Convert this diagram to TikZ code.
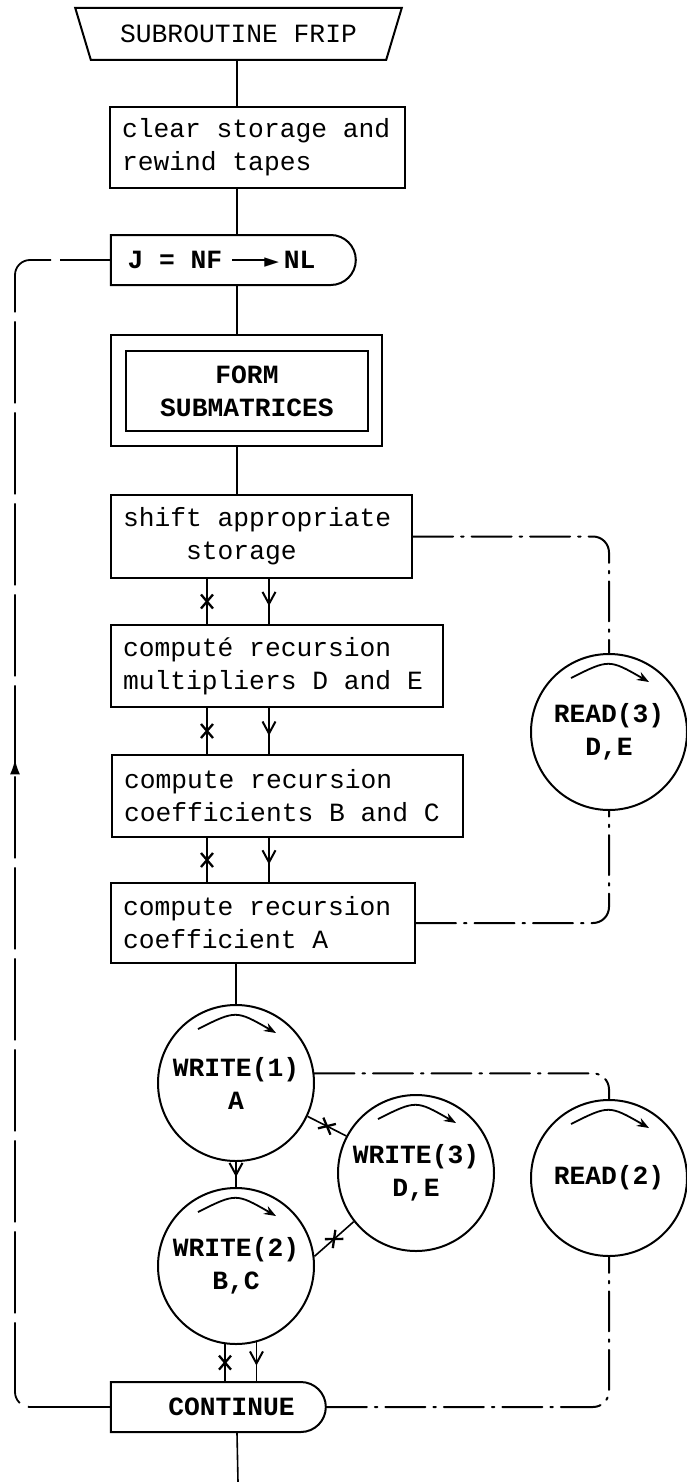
\documentclass[tikz,border=0pt]{standalone}
\usepackage{fontspec}
\setmonofont{Liberation Mono}
\newfontfamily\symfont{DejaVu Sans}
\usetikzlibrary{shapes.geometric,shapes.misc,decorations.markings,arrows.meta}

\tikzset{
  monospace/.style={execute at begin node={\spaceskip=0.6em\relax}},
  txt/.style={font=\ttfamily\fontsize{26.3}{33}\selectfont, monospace},
  txtb/.style={font=\ttfamily\bfseries\fontsize{26.3}{33}\selectfont, monospace},
  proc/.style={txt, draw, line width=2pt, inner xsep=12pt, inner ysep=0pt, align=left},
  term/.style={txtb, draw, line width=2pt, rounded rectangle, rounded rectangle west arc=none,
    minimum height=50pt, inner sep=0pt},
  tape/.style={txtb, draw, circle, line width=2pt, minimum size=156pt, inner sep=0pt, align=center},
  flow/.style={line width=1.6pt},
  xmark/.style={postaction={decorate}, decoration={markings,
    mark=at position 0.5 with {\draw[line width=2.3pt] (-7,-6) -- (7,6) (-7,6) -- (7,-6);}}},
  vmark/.style={postaction={decorate}, decoration={markings,
    mark=at position 0.6 with {\arrow{Straight Barb[length=12pt,width=13pt,line width=2pt]}}}},
  aux/.style={line width=2pt, line cap=round, rounded corners=16pt,
    dash pattern=on 40pt off 8pt on 2.5pt off 8pt},
  loopback/.style={line width=1.8pt, rounded corners=15pt, dash pattern=on 82pt off 9pt,
    postaction={decorate}, decoration={markings,
    mark=at position 736pt with {\arrow{Latex[length=15pt,width=10pt]}}}},
  spin/.style={line width=1.8pt, -{Stealth[length=12pt,width=9pt]}},
}

\begin{document}
\begin{tikzpicture}[x=1pt,y=-1pt]
\fill[white] (0,0) rectangle (686,1482);
\useasboundingbox (0,0) rectangle (686,1482);

% reference columns for the connectors
\coordinate (spine) at (237,0);
\coordinate (xl) at (207,0);
\coordinate (xr) at (269,0);
\coordinate (loopx) at (15,800);
\coordinate (tail) at (238,1482);

% entry
\node[txt, trapezium, trapezium stretches=true, shape border rotate=180, trapezium angle=55,
  minimum width=327pt, minimum height=52pt, draw, line width=2pt, inner sep=0pt]
  (frip) at (238.5,34) {SUBROUTINE FRIP};

\node[proc, minimum width=295pt, minimum height=81pt, text width=271pt]
  (clear) at (257.5,147.5) {clear storage and\\rewind tapes};

\node[term, minimum width=245pt] (jloop) at (232.5,260)
  {\hspace*{-4pt}J = NF\kern10pt\raisebox{7.6pt}{\rule{36pt}{2.4pt}}\kern-4pt\raisebox{1.2pt}{\symfont\fontsize{19}{19}\selectfont ►}\kern5pt NL\hspace*{18pt}};

% predefined process
\node[draw, line width=2pt, minimum width=271pt, minimum height=111pt] (form) at (246.5,390.5) {};
\node[txtb, draw, line width=2pt, minimum width=242pt, minimum height=80pt, align=center]
  (forminner) at (247,391) {FORM\\SUBMATRICES};

\node[proc, minimum width=301pt, minimum height=83pt, text width=277pt]
  (shift) at (261.5,536.5) {shift appropriate\\\phantom{xxxx}storage};
\node[proc, minimum width=332pt, minimum height=82pt, text width=308pt]
  (mult) at (277,666) {computé recursion\\multipliers D and E};
\node[proc, minimum width=351pt, minimum height=82pt, text width=327pt]
  (coef) at (287.5,796) {compute recursion\\coefficients B and C};
\node[proc, minimum width=304pt, minimum height=80pt, text width=280pt]
  (coefA) at (263,923) {compute recursion\\coefficient A};

% tape units
\node[tape] (read3) at (609,732) {READ(3)\\D,E};
\node[tape] (w1) at (236,1083) {WRITE(1)\\A};
\node[tape] (w3) at (416,1173) {WRITE(3)\\D,E};
\node[tape] (read2) at (609,1178) {READ(2)};
\node[tape] (w2) at (236,1266) {WRITE(2)\\B,C};

\node[term, minimum width=215pt] (cont) at (217.5,1407) {\hspace*{28pt}CONTINUE};

% tape motion arrows
\foreach \c in {read3,w1,w3,read2,w2}
  \draw[spin] ([shift={(-38,-54)}]\c.center) .. controls ([shift={(0,-73)}]\c.center) .. ([shift={(40,-50)}]\c.center);

% main flow
\draw[flow] (frip.south -| spine) -- (clear.north -| spine);
\draw[flow] (clear.south -| spine) -- (jloop.north -| spine);
\draw[flow] (jloop.south -| spine) -- (form.north -| spine);
\draw[flow] (form.south -| spine) -- (shift.north -| spine);
\draw[flow,xmark] (shift.south -| xl) -- (mult.north -| xl);
\draw[flow,vmark] (shift.south -| xr) -- (mult.north -| xr);
\draw[flow,xmark] (mult.south -| xl) -- (coef.north -| xl);
\draw[flow,vmark] (mult.south -| xr) -- (coef.north -| xr);
\draw[flow,xmark] (coef.south -| xl) -- (coefA.north -| xl);
\draw[flow,vmark] (coef.south -| xr) -- (coefA.north -| xr);
\draw[flow] (w1.north |- coefA.south) -- (w1.north);
\draw[flow,vmark] (w1.south) -- (w2.north);
\draw[flow,xmark] (w1.-25) -- (w3.152);
\draw[flow,xmark] (w3.218) -- (w2.7);
\draw[flow,xmark] (w2.-98) -- (w2.-98 |- cont.north);
\draw[flow,vmark] (w2.-75) -- (w2.-75 |- cont.north);
\draw[flow] (cont.south -| spine) -- (tail);

% loop return
\draw[loopback] (cont.west) -| (loopx) |- (jloop.west);

% tape links
\draw[aux] (shift.east) -| (read3.north);
\draw[aux] (coefA.east) -| (read3.south);
\draw[aux] (w1.7) -| (read2.north);
\draw[aux] (cont.east) -| (read2.south);
\end{tikzpicture}
\end{document}
